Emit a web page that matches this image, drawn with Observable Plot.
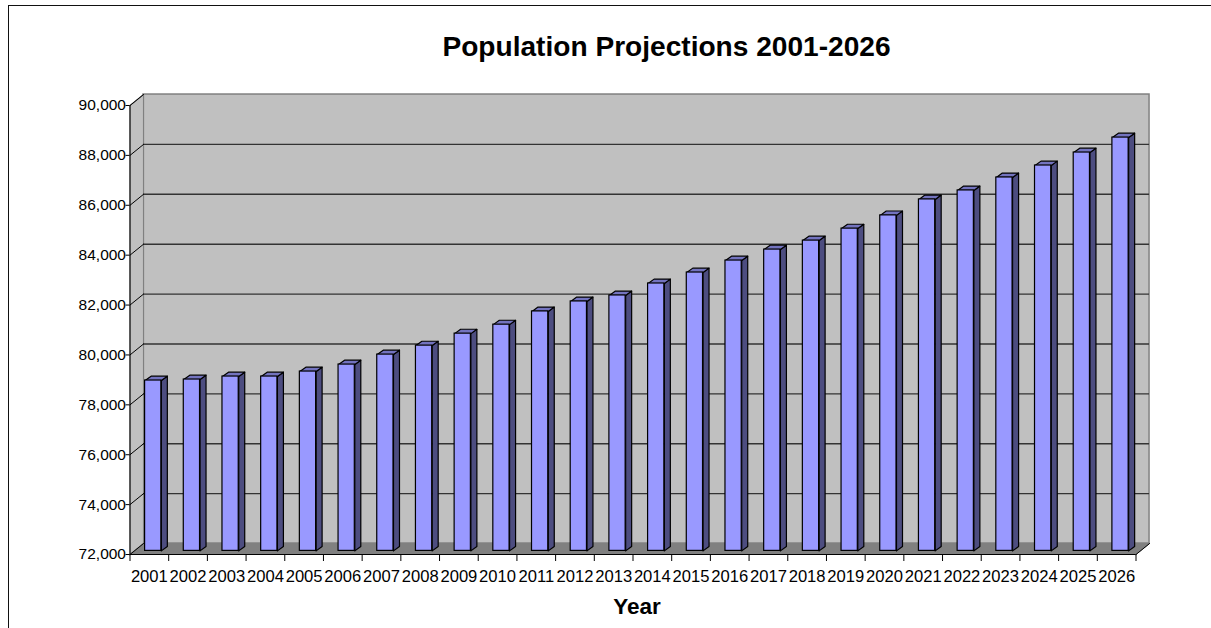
<!DOCTYPE html>
<html><head><meta charset="utf-8">
<script src="https://cdn.jsdelivr.net/npm/d3@7"></script>
<script src="https://cdn.jsdelivr.net/npm/@observablehq/plot@0.6"></script>
<style>
html,body{margin:0;padding:0;background:#fff;overflow:hidden}
#chart{position:relative;width:1211px;height:628px;overflow:hidden}
#border{position:absolute;left:7.5px;top:5px;width:1300px;height:700px;border:1.6px solid #111;box-sizing:border-box}
#chart svg{position:absolute;left:0;top:0}
</style></head><body>
<div id="chart"><div id="border"></div></div>
<script>
const years = [2001,2002,2003,2004,2005,2006,2007,2008,2009,2010,2011,2012,2013,2014,2015,2016,2017,2018,2019,2020,2021,2022,2023,2024,2025,2026];
const population = [78830,78870,78990,78990,79190,79470,79870,80230,80710,81070,81600,82000,82240,82720,83160,83640,84080,84440,84920,85450,86090,86450,86970,87450,87970,88570];
const yTicks = [72000,74000,76000,78000,80000,82000,84000,86000,88000,90000];
const titleText = "Population Projections 2001-2026";
const xTitle = "Year";

const font = "Liberation Sans, Arial, sans-serif";
// depth of the pseudo-3D box and of each bar, in data units
const wallX = 0.35, wallY = 440;
const barX1 = 0.39, barX2 = 0.81, barDX = 0.155, barDY = 175, barLift = 145;

const idx = years.map((_, i) => i);
const poly = (id, pts) => pts.map(([x, y]) => ({id, x, y}));
const leftWall = poly("l", [[0,72000],[wallX,72000+wallY],[wallX,90000+wallY],[0,90000],[0,72000]]);
const floor = poly("f", [[0,72000],[26,72000],[26+wallX,72000+wallY],[wallX,72000+wallY],[0,72000]]);
const side = idx.flatMap(i => {
  const x = i + barX2, b = 72000 + barLift, t = population[i] + barLift;
  return poly(i, [[x,b],[x+barDX,b+barDY],[x+barDX,t+barDY],[x,t],[x,b]]);
});
const top_ = idx.flatMap(i => {
  const a = i + barX1, c = i + barX2, t = population[i] + barLift;
  return poly(i, [[a,t],[c,t],[c+barDX,t+barDY],[a+barDX,t+barDY],[a,t]]);
});
const diagonals = yTicks.flatMap(v => poly(v, [[0,v],[wallX,v+wallY]]));
const rightDiag = poly("r", [[26,72000],[26+wallX,72000+wallY]]);
const polyOpts = o => ({x:"x", y:"y", z:"id", curve:"linear", strokeLinejoin:"round", ...o});

const plot = Plot.plot({
  width: 1211, height: 628,
  marginLeft: 129.5, marginRight: 75.5, marginTop: 105, marginBottom: 74,
  style: {fontFamily: font, background: "transparent", overflow: "visible"},
  x: {type: "linear", domain: [0, 26]},
  y: {type: "linear", domain: [72000, 90000]},
  marks: [
    Plot.rect([{}], {x1: wallX, x2: 26+wallX, y1: 72000+wallY, y2: 90000+wallY, fill: "#c0c0c0", stroke: "#808080", strokeWidth: 1.5}),
    Plot.line(leftWall, polyOpts({fill: "#c0c0c0", stroke: "#808080", strokeWidth: 1.2})),
    Plot.line(floor, polyOpts({fill: "#808080", stroke: "#808080", strokeWidth: 1})),
    Plot.ruleY(yTicks.slice(1,-1), {y: v => v + wallY, x1: wallX, x2: 26+wallX, stroke: "#333", strokeWidth: 1.4}),
    Plot.line(diagonals, polyOpts({stroke: "#000", strokeWidth: 1})),
    Plot.line(rightDiag, polyOpts({stroke: "#000", strokeWidth: 1})),
    Plot.line(side, polyOpts({fill: "#4d4d80", stroke: "#000", strokeWidth: 1.2})),
    Plot.line(top_, polyOpts({fill: "#7373bf", stroke: "#000", strokeWidth: 1.2})),
    Plot.rect(idx, {x1: i => i + barX1, x2: i => i + barX2, y1: 72000 + barLift, y2: i => population[i] + barLift, fill: "#9999ff", stroke: "#000", strokeWidth: 1.2}),
    Plot.ruleX([0], {y1: 72000, y2: 90000, stroke: "#000", strokeWidth: 1}),
    Plot.ruleY([72000], {x1: 0, x2: 26, stroke: "#000", strokeWidth: 1}),
    Plot.axisY({ticks: yTicks, tickSize: 4, tickPadding: 0, tickFormat: d3.format(","), label: null, fontSize: 15.5, fill: "#000"}),
    Plot.axisX({ticks: d3.range(0, 27), tickSize: 7, tickFormat: () => "", label: null}),
    Plot.axisX({ticks: idx.map(i => i + 0.5), tickSize: 0, tickPadding: 16, tickFormat: v => String(years[Math.floor(v)]), label: null, fontSize: 16.6, fill: "#000"}),
    Plot.text([titleText], {frameAnchor: "top-left", dx: 666 - 129.5, dy: 35.5 - 105, text: d => d, fontSize: 28.1, fontWeight: "bold", textAnchor: "middle", fill: "#000"}),
    Plot.text([xTitle], {frameAnchor: "top-left", dx: 636.5 - 129.5, dy: 598 - 105, text: d => d, fontSize: 22.5, fontWeight: "bold", textAnchor: "middle", fill: "#000"})
  ]
});
document.getElementById("chart").appendChild(plot);
</script>
</body></html>
